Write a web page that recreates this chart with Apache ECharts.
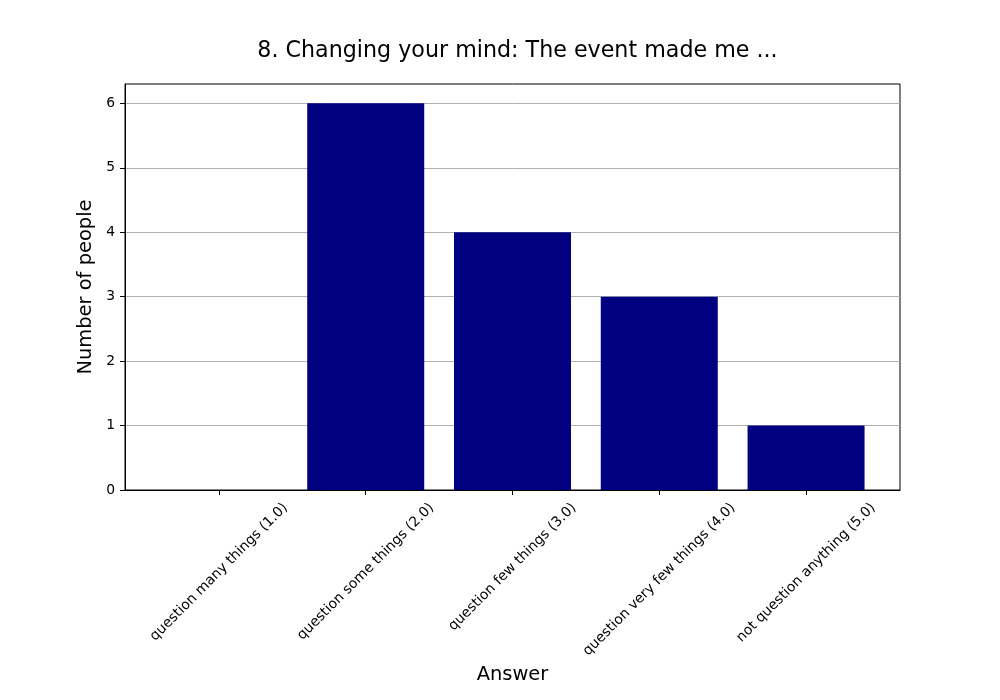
<!DOCTYPE html>
<html>
<head>
<meta charset="utf-8">
<script src="https://cdn.jsdelivr.net/npm/echarts@6/dist/echarts.min.js"></script>
<style>html,body{margin:0;padding:0;background:#fff}#chart{width:1000px;height:700px}</style>
</head>
<body>
<div id="chart"></div>
<script>
const categories = [
  "question many things (1.0)",
  "question some things (2.0)",
  "question few things (3.0)",
  "question very few things (4.0)",
  "not question anything (5.0)"
];
const counts = [0, 6, 4, 3, 1];
const yTicks = [0, 1, 2, 3, 4, 5, 6];
const titleText = "8. Changing your mind: The event made me ...";
const xName = "Answer";
const yName = "Number of people";

const positions = categories.map((c, i) => i);
const font = "DejaVu Sans";
const tickFont = 13.89;

// Emulate matplotlib's rotated-label placement (bbox centred under tick, top aligned)
const ctx = document.createElement('canvas').getContext('2d');
ctx.font = tickFont + 'px "' + font + '"';
const widths = categories.map(c => ctx.measureText(c).width);
const minW = Math.min.apply(null, widths);
const textH = 16;
const baseMargin = 10 + 0.3536 * (minW + textH);
const rich = {};
widths.forEach((w, i) => {
  const p = Math.max(0, (w - minW) / 2);
  rich['p' + i] = {padding: [p, p, 0, 0], fontFamily: font, fontSize: tickFont, color: '#000'};
});

const chart = echarts.init(document.getElementById('chart'), null, {renderer: 'canvas'});
chart.setOption({
  animation: false,
  backgroundColor: '#fff',
  title: {
    text: titleText, left: 512.5, top: 35, textAlign: 'center',
    textStyle: {fontFamily: font, fontSize: 22.2, fontWeight: 'normal', color: '#000'}
  },
  grid: {left: 125, right: 100, top: 84, bottom: 210, show: true, borderColor: '#000', borderWidth: 1, backgroundColor: 'transparent'},
  xAxis: {
    type: 'value', min: -0.64, max: 4.64,
    name: xName, nameLocation: 'middle', nameGap: 172,
    nameTextStyle: {fontFamily: font, fontSize: 19.44, color: '#000'},
    axisLine: {show: true, onZero: false, lineStyle: {color: '#000', width: 1}},
    axisTick: {show: true, length: 5, customValues: positions, lineStyle: {color: '#000'}},
    axisLabel: {
      customValues: positions, rotate: 45, align: 'center', verticalAlign: 'middle', margin: baseMargin,
      fontFamily: font, fontSize: tickFont, color: '#000',
      formatter: v => { const i = Math.round(v); return '{p' + i + '|' + categories[i] + '}'; },
      rich: rich
    },
    splitLine: {show: false}
  },
  yAxis: {
    type: 'value', min: 0, max: 6.3, interval: 1,
    name: yName, nameLocation: 'middle', nameGap: 21,
    nameTextStyle: {fontFamily: font, fontSize: 19.44, color: '#000'},
    axisLine: {show: true, onZero: false, lineStyle: {color: '#000', width: 1}},
    axisTick: {show: true, length: 5, customValues: yTicks, lineStyle: {color: '#000'}},
    axisLabel: {
      customValues: yTicks,
      fontFamily: font, fontSize: tickFont, color: '#000', margin: 10,
      formatter: v => String(v)
    },
    splitLine: {show: true, lineStyle: {color: '#b0b0b0', width: 1}}
  },
  series: [{
    type: 'bar',
    barWidth: 117,
    itemStyle: {color: '#000080'},
    data: positions.map((p, i) => [p, counts[i]])
  }]
});
</script>
</body>
</html>
